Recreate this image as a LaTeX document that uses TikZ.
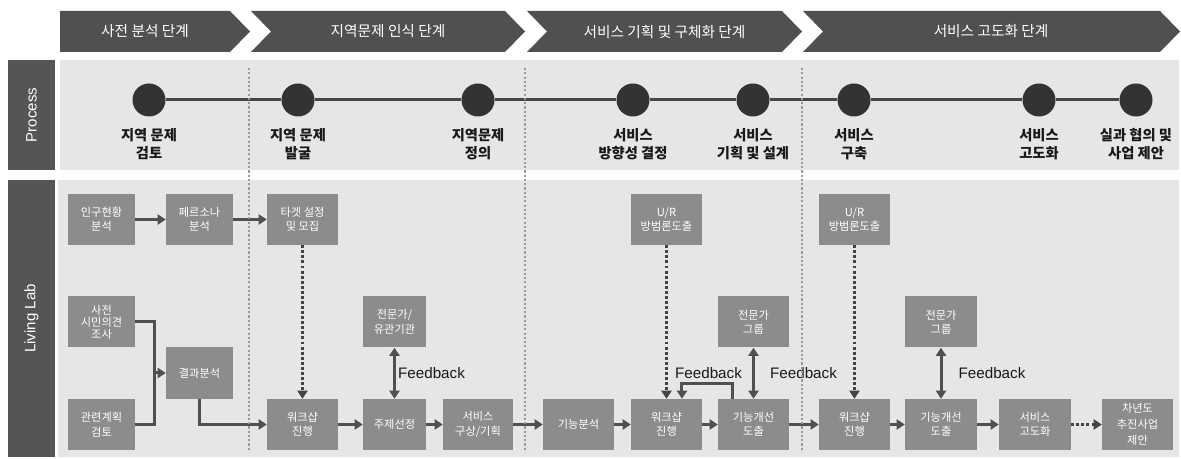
\documentclass[tikz,border=0pt]{standalone}
\usepackage{fontspec}
\setmainfont{Noto Sans CJK KR}
\newfontfamily\latinsf{Liberation Sans}
\usetikzlibrary{arrows.meta,calc}
\definecolor{bannerc}{HTML}{505050}
\definecolor{sidec}{HTML}{555555}
\definecolor{panelc}{HTML}{E6E6E6}
\definecolor{boxc}{HTML}{8C8C8C}
\definecolor{dotc}{HTML}{333333}
\definecolor{arrc}{HTML}{505050}
\definecolor{sepc}{HTML}{9A9A9A}
\begin{document}
\begin{tikzpicture}[x=0.75pt,y=-0.75pt,
  bx/.style={fill=boxc,text=white,inner sep=0pt,minimum height=38.25pt,
    minimum width=#1*0.75pt,align=center,font=\fontsize{8.4}{10.8}\selectfont},
  bx/.default=71,
  sidebox/.style={fill=sidec,text=white,rotate=90,inner sep=0pt,
    font=\latinsf\fontsize{11.3}{13}\selectfont},
  bantext/.style={text=white,font=\fontsize{11}{13}\selectfont},
  lab/.style={align=center,text=black!90,font=\fontsize{10.7}{13.5}\selectfont\bfseries},
  pdot/.style={circle,fill=dotc,minimum size=24.75pt,inner sep=0pt},
  pline/.style={draw=dotc!90!white,line width=2.25pt},
  tip/.style={-{Triangle[length=6pt,width=7.5pt]}},
  dtip/.style={{Triangle[length=6pt,width=7.5pt]}-{Triangle[length=6pt,width=7.5pt]}},
  ln/.style={draw=arrc,line width=2.25pt},
  arr/.style={ln,tip},
  darr/.style={draw=arrc!85!black,line width=2.25pt,dash pattern=on 2.2pt off 1.6pt,tip},
  fb/.style={font=\latinsf\fontsize{11.4}{13}\selectfont,text=black!90},
  sepl/.style={draw=sepc,line width=2pt,dash pattern=on 1.6pt off 1.6pt}
]
\useasboundingbox (0,0) rectangle (1181,459);
\fill[white] (0,0) rectangle (1181,459);

% banners
\fill[bannerc] (60,11) -- (230,11) -- (250,31.5) -- (230,52) -- (60,52) -- cycle;
\fill[bannerc] (251,11) -- (505,11) -- (525,31.5) -- (505,52) -- (251,52) -- (271,31.5) -- cycle;
\fill[bannerc] (527,11) -- (782,11) -- (802,31.5) -- (782,52) -- (527,52) -- (547,31.5) -- cycle;
\fill[bannerc] (803,11) -- (1160,11) -- (1180,31.5) -- (1160,52) -- (803,52) -- (823,31.5) -- cycle;
\node[bantext] (b1) at (145,31.5) {사전 분석 단계};
\node[bantext] (b2) at (388,31.5) {지역문제 인식 단계};
\node[bantext] (b3) at (664.5,31.5) {서비스 기획 및 구체화 단계};
\node[bantext] (b4) at (991,31.5) {서비스 고도화 단계};

% side bars and panels
\node[sidebox,minimum width=82.5pt,minimum height=35.25pt] (sp) at (31.5,115) {Process};
\node[sidebox,minimum width=207.75pt,minimum height=35.25pt] (sl) at (31.5,318.5) {Living Lab};
\fill[panelc] (60,60) rectangle (1179,170);
\fill[panelc] (58,180) rectangle (1179,457);

% process
\foreach \n/\x in {1/149,2/298,3/478,4/633,5/753,6/854,7/1039,8/1136}
  \node[pdot] (c\n) at (\x,100) {};
\foreach \a/\b in {1/2,2/3,3/4,4/5,5/6,6/7,7/8}
  \draw[pline] (c\a) -- (c\b);
\node[lab] (l1) at (149,144) {지역 문제\\검토};
\node[lab] (l2) at (298,144) {지역 문제\\발굴};
\node[lab] (l3) at (478,144) {지역문제\\정의};
\node[lab] (l4) at (633,144) {서비스\\방향성 결정};
\node[lab] (l5) at (753,144) {서비스\\기획 및 설계};
\node[lab] (l6) at (854,144) {서비스\\구축};
\node[lab] (l7) at (1039,144) {서비스\\고도화};
\node[lab] (l8) at (1136,144) {실과 협의 및\\사업 제안};

% living lab boxes
\node[bx=67] (p1) at (101.5,219.5) {인구현황\\분석};
\node[bx=67] (p2) at (199.5,219.5) {페르소나\\분석};
\node[bx] (tg) at (302.5,219.5) {타겟 설정\\및 모집};
\node[bx=67,font=\fontsize{8.4}{9}\selectfont] (pre) at (101.5,322) {사전\\시민의견\\조사};
\node[bx=67] (plan) at (101.5,424.5) {관련계획\\검토};
\node[bx=67] (res) at (199.5,373) {결과분석};
\node[bx] (ws1) at (302.5,424.5) {워크샵\\진행};
\node[bx=63] (ex1) at (394.5,322) {전문가/\\유관기관};
\node[bx=63] (th) at (394.5,424.5) {주제선정};
\node[bx=70] (sv) at (478,424.5) {서비스\\구상/기획};
\node[bx] (fa) at (578.5,424.5) {기능분석};
\node[bx] (ur1) at (666.5,219.5) {U/R\\방범론도출};
\node[bx] (ws2) at (666.5,424.5) {워크샵\\진행};
\node[bx] (ex2) at (753.5,322) {전문가\\그룹};
\node[bx] (fi1) at (753.5,424.5) {기능개선\\도출};
\node[bx] (ur2) at (854.5,219.5) {U/R\\방범론도출};
\node[bx] (ws3) at (854.5,424.5) {워크샵\\진행};
\node[bx=72] (ex3) at (941,322) {전문가\\그룹};
\node[bx=72] (fi2) at (941,424.5) {기능개선\\도출};
\node[bx=72] (adv) at (1035,424.5) {서비스\\고도화};
\node[bx,font=\fontsize{8.4}{12}\selectfont] (nx) at (1137.5,424.5) {차년도\\추진사업\\제안};

\node[fb] (fb1) at (431.5,373) {Feedback};
\node[fb] (fb2) at (708.5,373) {Feedback};
\node[fb] (fb3) at (803.5,373) {Feedback};
\node[fb] (fb4) at (992,373) {Feedback};

% connectors
\draw[arr] (p1) -- (p2);
\draw[arr] (p2) -- (tg);
\coordinate (j) at (154,373);
\draw[ln] (pre.east) -| (j);
\draw[ln] (plan.east) -| (j);
\draw[arr] (j) -- (res.west);
\draw[arr] (res.south) |- (ws1.west);
\draw[darr] (tg) -- (ws1);
\draw[arr] (ws1) -- (th);
\draw[ln,dtip] (ex1) -- (th);
\draw[arr] (th) -- (sv);
\draw[arr] (sv) -- (fa);
\draw[arr] (fa) -- (ws2);
\draw[darr] (ur1) -- (ws2);
\draw[arr] (ws2) -- (fi1);
\draw[arr] ([xshift=-15.4pt]fi1.north) -- ++(0,-15) -| ([xshift=11.6pt]ws2.north);
\draw[ln,dtip] (ex2) -- (fi1);
\draw[arr] (fi1) -- (ws3);
\draw[darr] (ur2) -- (ws3);
\draw[arr] (ws3) -- (fi2);
\draw[ln,dtip] (ex3) -- (fi2);
\draw[arr] (fi2) -- (adv);
\draw[darr] (adv) -- (nx);

% separators
\foreach \x in {249,525,802}
  \draw[sepl] (\x,68) -- (\x,452);
\end{tikzpicture}
\end{document}
